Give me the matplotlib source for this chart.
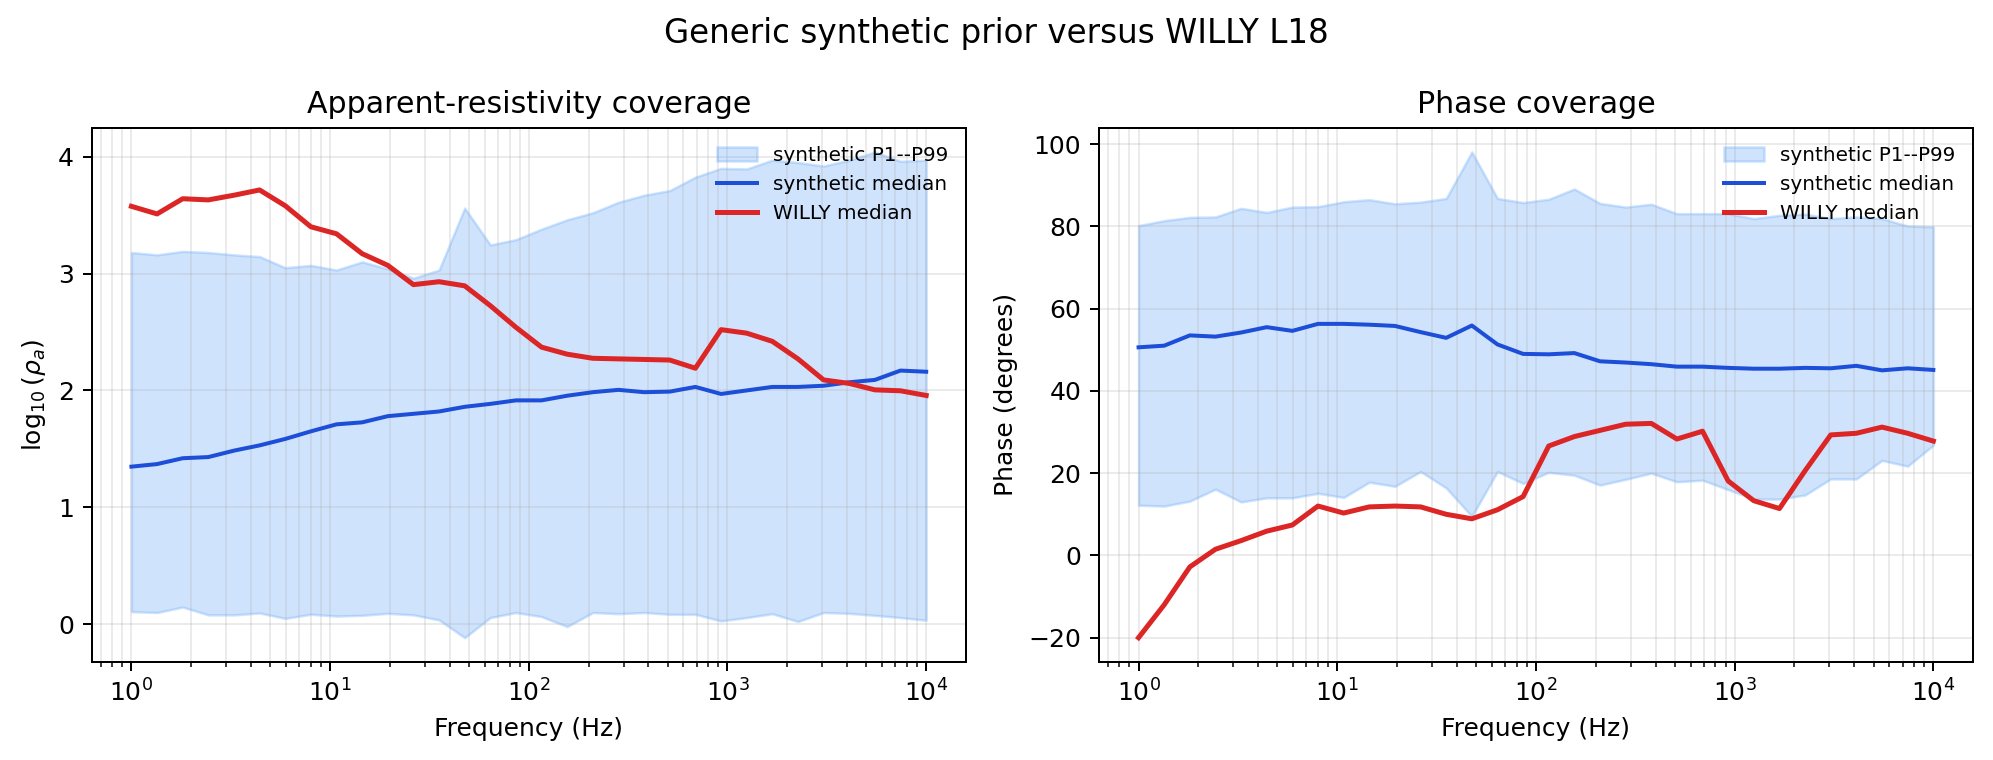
import numpy as np
import matplotlib
matplotlib.use("Agg")
import matplotlib.pyplot as plt

# frequency grid (Hz)
freqs = [1.0, 1.3459, 1.8114, 2.4380, 3.2813, 4.4163, 5.9439, 8.0, 10.771, 14.496,
         19.511, 26.260, 35.344, 47.570, 64.025, 86.170, 115.98, 156.10, 210.10, 282.78,
         380.59, 512.24, 689.43, 927.93, 1248.9, 1681.0, 2262.4, 3045.0, 4098.3, 5515.9,
         7424.0, 10000.0]

# log10 apparent resistivity
rho_p01 = [0.108, 0.10, 0.147, 0.08, 0.08, 0.096, 0.05, 0.085, 0.07, 0.076, 0.093, 0.08,
           0.037, -0.115, 0.057, 0.10, 0.065, -0.02, 0.10, 0.09, 0.10, 0.085, 0.085, 0.028,
           0.057, 0.09, 0.023, 0.10, 0.093, 0.076, 0.057, 0.034]
rho_p99 = [3.18, 3.16, 3.19, 3.18, 3.16, 3.145, 3.05, 3.07, 3.03, 3.10, 3.04, 2.96, 3.03,
           3.56, 3.245, 3.29, 3.38, 3.46, 3.52, 3.61, 3.67, 3.71, 3.825, 3.90, 3.895, 3.97,
           3.95, 3.92, 3.97, 4.04, 3.96, 3.97]
rho_syn_med = [1.348, 1.37, 1.42, 1.43, 1.485, 1.53, 1.585, 1.65, 1.71, 1.727, 1.78, 1.80,
               1.82, 1.86, 1.885, 1.915, 1.915, 1.955, 1.985, 2.005, 1.985, 1.99, 2.03, 1.97,
               2.00, 2.03, 2.03, 2.04, 2.07, 2.09, 2.17, 2.16]
rho_willy = [3.575, 3.51, 3.64, 3.63, 3.67, 3.715, 3.58, 3.40, 3.34, 3.17, 3.07, 2.905,
             2.93, 2.895, 2.725, 2.54, 2.37, 2.31, 2.275, 2.27, 2.265, 2.26, 2.19, 2.52,
             2.49, 2.42, 2.27, 2.09, 2.06, 2.005, 1.997, 1.957]

# phase (degrees)
ph_p01 = [12.2, 12.0, 13.2, 16.1, 13.0, 14.0, 14.0, 15.1, 14.1, 17.8, 16.8, 20.4, 16.4,
          9.5, 20.4, 17.5, 20.2, 19.5, 17.1, 18.5, 20.0, 17.9, 18.3, 16.0, 13.7, 13.7,
          14.7, 18.6, 18.6, 23.1, 21.7, 26.8]
ph_p99 = [80.2, 81.4, 82.2, 82.3, 84.4, 83.4, 84.7, 84.8, 86.0, 86.5, 85.5, 85.9, 86.8,
          98.1, 86.8, 85.8, 86.6, 89.1, 85.6, 84.7, 85.4, 83.1, 83.1, 83.1, 81.9, 82.7,
          83.0, 81.9, 82.3, 81.9, 80.1, 79.9]
ph_syn_med = [50.6, 51.0, 53.5, 53.2, 54.2, 55.5, 54.6, 56.3, 56.3, 56.1, 55.8, 54.3, 52.9,
              55.9, 51.3, 49.0, 48.9, 49.2, 47.2, 46.9, 46.5, 45.9, 45.9, 45.6, 45.4, 45.4,
              45.6, 45.5, 46.1, 45.0, 45.5, 45.1]
ph_willy = [-20.0, -12.0, -2.8, 1.5, 3.6, 5.9, 7.4, 12.0, 10.3, 11.8, 12.0, 11.8, 10.0,
            8.9, 11.1, 14.3, 26.6, 28.9, 30.4, 31.9, 32.1, 28.3, 30.2, 18.1, 13.3, 11.4,
            20.6, 29.3, 29.7, 31.2, 29.7, 27.8]

FILL = "#60a5fa"
BLUE = "#1d4ed8"
RED = "#dc2626"


def panel(ax, lo, hi, med, willy, title, ylabel):
    ax.fill_between(freqs, lo, hi, color=FILL, alpha=0.3, label="synthetic P1--P99")
    ax.plot(freqs, med, color=BLUE, lw=1.6, label="synthetic median")
    ax.plot(freqs, willy, color=RED, lw=2.0, label="WILLY median")
    ax.set_xscale("log")
    ax.set_title(title, fontsize=12)
    ax.set_xlabel("Frequency (Hz)")
    ax.set_ylabel(ylabel)
    ax.grid(True, which="both", alpha=0.25)
    ax.legend(loc="upper right", frameon=False, fontsize=8)


fig, (ax1, ax2) = plt.subplots(1, 2, figsize=(1993 / 180, 760 / 180), dpi=180)
panel(ax1, rho_p01, rho_p99, rho_syn_med, rho_willy,
      "Apparent-resistivity coverage", r"$\log_{10}(\rho_a)$")
panel(ax2, ph_p01, ph_p99, ph_syn_med, ph_willy,
      "Phase coverage", "Phase (degrees)")
fig.suptitle("Generic synthetic prior versus WILLY L18", fontsize=13, y=0.978)
fig.subplots_adjust(left=0.046, right=0.990, top=0.832, bottom=0.129, wspace=0.152)
fig.savefig("out.png", dpi=180)
